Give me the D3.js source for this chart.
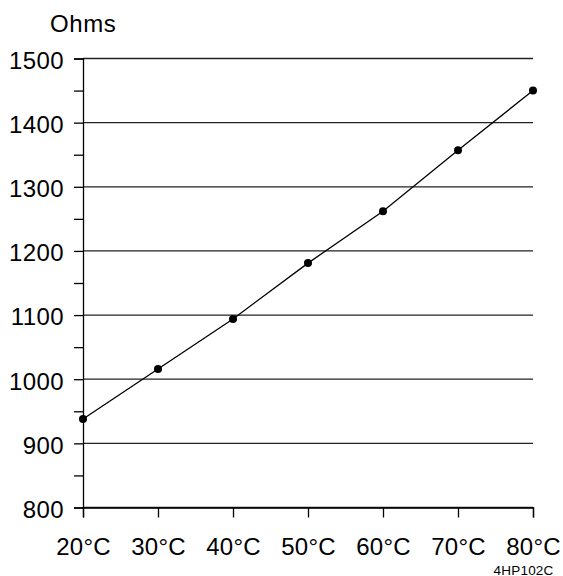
<!DOCTYPE html>
<html>
<head>
<meta charset="utf-8">
<script src="https://cdn.jsdelivr.net/npm/d3@7"></script>
<style>
  html, body { margin: 0; padding: 0; background: #fff; }
  svg { display: block; font-family: "Liberation Sans", Arial, sans-serif; }
</style>
</head>
<body>
<svg id="chart" width="563" height="576"></svg>
<script>
// Resistance versus temperature for the 4HP102C thermistor
const temperatures = [20, 30, 40, 50, 60, 70, 80];
const resistance = [938, 1016, 1094, 1181, 1262, 1357, 1450];
const xTickLabels = ["20°C", "30°C", "40°C", "50°C", "60°C", "70°C", "80°C"];
const yMajorTicks = [800, 900, 1000, 1100, 1200, 1300, 1400, 1500];
const yMinorTicks = [850, 950, 1050, 1150, 1250, 1350, 1450];
const unitLabel = "Ohms";
const partLabel = "4HP102C";

const svg = d3.select("#chart");
const plotLeft = 83, plotRight = 533, plotTop = 58.5, plotBottom = 507.5;
const labelFont = "'Liberation Sans', Arial, sans-serif";

const x = d3.scaleLinear().domain([20, 80]).range([plotLeft, plotRight]);
const y = d3.scaleLinear().domain([800, 1500]).range([plotBottom, plotTop]);

// horizontal grid lines at each major value
svg.append("g")
  .selectAll("line")
  .data(yMajorTicks)
  .join("line")
  .attr("x1", plotLeft).attr("x2", plotRight)
  .attr("y1", d => y(d)).attr("y2", d => y(d))
  .attr("stroke", "#222").attr("stroke-width", 1.3);

// left axis: major ticks with labels, minor ticks without
const yAxis = svg.append("g").attr("transform", `translate(${plotLeft},0)`)
  .call(d3.axisLeft(y).tickValues(yMajorTicks).tickSize(9).tickPadding(10).tickFormat(d3.format("d")));
yAxis.select(".domain").attr("stroke", "#000").attr("stroke-width", 1.3);
yAxis.selectAll(".tick line").attr("stroke", "#000").attr("stroke-width", 1.3);
yAxis.selectAll(".tick text")
  .attr("font-size", 24).attr("letter-spacing", 0.4).attr("dy", "0.41em")
  .attr("fill", "#000").attr("font-family", labelFont);

svg.append("g").attr("transform", `translate(${plotLeft},0)`)
  .call(d3.axisLeft(y).tickValues(yMinorTicks).tickSize(9).tickFormat(""))
  .call(g => g.select(".domain").remove())
  .selectAll(".tick line").attr("stroke", "#000").attr("stroke-width", 1.3);

// bottom axis with downward ticks
const xAxis = svg.append("g").attr("transform", `translate(0,${plotBottom})`)
  .call(d3.axisBottom(x).tickValues(temperatures).tickSize(10).tickPadding(20)
    .tickFormat((d, i) => xTickLabels[i]));
xAxis.select(".domain").attr("stroke", "#000").attr("stroke-width", 1.3);
xAxis.selectAll(".tick line").attr("stroke", "#000").attr("stroke-width", 1.3);
xAxis.selectAll(".tick text")
  .attr("font-size", 24).attr("letter-spacing", 0.2)
  .attr("fill", "#000").attr("font-family", labelFont);

// data line and markers
const line = d3.line().x((d, i) => x(temperatures[i])).y(d => y(d));
svg.append("path")
  .datum(resistance)
  .attr("d", line)
  .attr("fill", "none")
  .attr("stroke", "#000")
  .attr("stroke-width", 1.3);

svg.append("g")
  .selectAll("circle")
  .data(resistance)
  .join("circle")
  .attr("cx", (d, i) => x(temperatures[i]))
  .attr("cy", d => y(d))
  .attr("r", 4)
  .attr("fill", "#000");

// unit label above the axis and part number at bottom right
svg.append("text").attr("x", 50).attr("y", 31.5)
  .attr("font-size", 24).attr("letter-spacing", 0.6).text(unitLabel);
svg.append("text").attr("x", 553.5).attr("y", 574.5).attr("text-anchor", "end")
  .attr("font-size", 13.5).attr("letter-spacing", 0.2).text(partLabel);
</script>
</body>
</html>
